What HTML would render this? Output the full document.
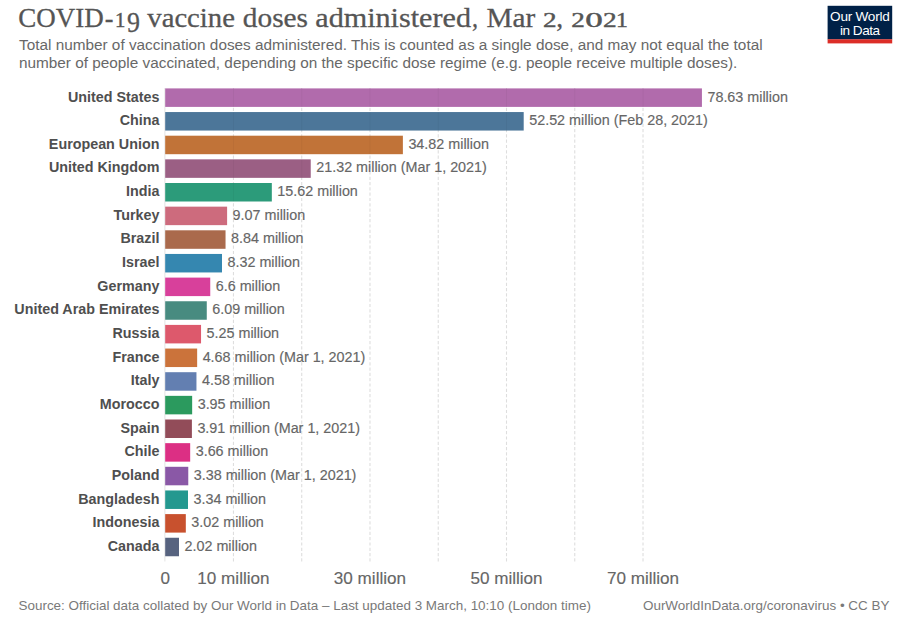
<!DOCTYPE html>
<html><head><meta charset="utf-8"><title>COVID-19 vaccine doses administered</title>
<style>
html,body{margin:0;padding:0;background:#fff;}
body{width:920px;height:625px;position:relative;overflow:hidden;font-family:"Liberation Sans",sans-serif;}
svg{position:absolute;left:0;top:0;}
text{font-family:"Liberation Sans",sans-serif;white-space:pre;}
.title text{font-family:"Liberation Serif",serif;fill:#555;stroke:#555;}
.sub{font-size:15.34px;fill:#686868;}
.lab{font-size:14.32px;font-weight:bold;fill:#4f4f4f;text-anchor:end;}
.val{font-size:14.35px;fill:#666;stroke:#666;stroke-width:0.15px;}
.tick{font-size:17.1px;fill:#666;stroke:#666;stroke-width:0.15px;text-anchor:middle;}
.foot{font-size:13.45px;fill:#797979;}
.logo{font-size:13.6px;fill:#fff;text-anchor:middle;letter-spacing:-0.25px;}
</style></head><body>
<svg width="920" height="625" viewBox="0 0 920 625">
<g class="title"><text transform="translate(18.32,27.30) scale(0.984,1)" font-size="27.4" stroke-width="0.30">COVID</text><text transform="translate(104.65,27.30) scale(0.950,1)" font-size="27.4" stroke-width="0.30">-</text><text transform="translate(114.92,27.30) scale(0.978,1)" font-size="21.2" stroke-width="0.45">1</text><text transform="translate(127.00,32.40) scale(0.914,1)" font-size="28.4" stroke-width="0.30">9 </text><text transform="translate(147.30,27.30) scale(1.048,1)" font-size="27.4" stroke-width="0.30">vaccine </text><text transform="translate(242.80,27.30) scale(1.071,1)" font-size="27.4" stroke-width="0.30">doses </text><text transform="translate(315.30,27.30) scale(1.100,1)" font-size="27.4" stroke-width="0.30">administered</text><text transform="translate(472.02,27.30) scale(0.880,1)" font-size="27.4" stroke-width="0.30">, </text><text transform="translate(486.40,27.30) scale(1.068,1)" font-size="27.4" stroke-width="0.30">Mar </text><text transform="translate(542.90,27.30) scale(1.280,1)" font-size="21.2" stroke-width="0.45">2</text><text transform="translate(556.30,27.30) scale(1.000,1)" font-size="27.4" stroke-width="0.30">, </text><text transform="translate(571.20,27.30) scale(1.280,1)" font-size="21.2" stroke-width="0.45">2</text><text transform="translate(585.20,27.30) scale(1.650,1)" font-size="21.2" stroke-width="0.45">0</text><text transform="translate(602.90,27.30) scale(1.290,1)" font-size="21.2" stroke-width="0.45">2</text><text transform="translate(615.88,27.30) scale(1.122,1)" font-size="21.2" stroke-width="0.45">1</text></g>
<text class="sub" x="19" y="49.6">Total number of vaccination doses administered. This is counted as a single dose, and may not equal the total</text>
<text class="sub" x="19" y="67.8">number of people vaccinated, depending on the specific dose regime (e.g. people receive multiple doses).</text>
<rect x="827.6" y="5.8" width="64.6" height="33.6" fill="#002147"/><rect x="827.6" y="39.3" width="64.6" height="4.1" fill="#dc2d27"/>
<text class="logo" x="859.8" y="20.5">Our World</text><text class="logo" x="859.8" y="34.7" style="letter-spacing:-0.5px">in Data</text>
<line x1="164.90" y1="88.0" x2="164.90" y2="561.5" stroke="#e3e3e3" stroke-width="1"/>
<line x1="233.46" y1="561.5" x2="233.46" y2="88.0" stroke="#dedede" stroke-width="1.1" stroke-dasharray="3.2,2.1"/>
<line x1="301.72" y1="561.5" x2="301.72" y2="88.0" stroke="#dedede" stroke-width="1.1" stroke-dasharray="3.2,2.1"/>
<line x1="369.98" y1="561.5" x2="369.98" y2="88.0" stroke="#dedede" stroke-width="1.1" stroke-dasharray="3.2,2.1"/>
<line x1="438.24" y1="561.5" x2="438.24" y2="88.0" stroke="#dedede" stroke-width="1.1" stroke-dasharray="3.2,2.1"/>
<line x1="506.50" y1="561.5" x2="506.50" y2="88.0" stroke="#dedede" stroke-width="1.1" stroke-dasharray="3.2,2.1"/>
<line x1="574.76" y1="561.5" x2="574.76" y2="88.0" stroke="#dedede" stroke-width="1.1" stroke-dasharray="3.2,2.1"/>
<line x1="643.02" y1="561.5" x2="643.02" y2="88.0" stroke="#dedede" stroke-width="1.1" stroke-dasharray="3.2,2.1"/>
<rect x="165.20" y="88.40" width="536.73" height="18.50" fill="#b16bac"/>
<rect x="165.20" y="112.05" width="358.50" height="18.50" fill="#4c7699"/>
<rect x="165.20" y="135.70" width="237.68" height="18.50" fill="#c17338"/>
<rect x="165.20" y="159.35" width="145.53" height="18.50" fill="#9b5f84"/>
<rect x="165.20" y="183.00" width="106.62" height="18.50" fill="#2c9b7a"/>
<rect x="165.20" y="206.65" width="61.91" height="18.50" fill="#cd6b7d"/>
<rect x="165.20" y="230.30" width="60.34" height="18.50" fill="#aa6a4c"/>
<rect x="165.20" y="253.95" width="56.79" height="18.50" fill="#3587b0"/>
<rect x="165.20" y="277.60" width="45.05" height="18.50" fill="#d8409b"/>
<rect x="165.20" y="301.25" width="41.57" height="18.50" fill="#488b80"/>
<rect x="165.20" y="324.90" width="35.84" height="18.50" fill="#dd596c"/>
<rect x="165.20" y="348.55" width="31.95" height="18.50" fill="#cb733b"/>
<rect x="165.20" y="372.20" width="31.26" height="18.50" fill="#637fb1"/>
<rect x="165.20" y="395.85" width="26.96" height="18.50" fill="#2b9a5e"/>
<rect x="165.20" y="419.50" width="26.69" height="18.50" fill="#924c59"/>
<rect x="165.20" y="443.15" width="24.98" height="18.50" fill="#dc2f84"/>
<rect x="165.20" y="466.80" width="23.07" height="18.50" fill="#8a58a6"/>
<rect x="165.20" y="490.45" width="22.80" height="18.50" fill="#24988f"/>
<rect x="165.20" y="514.10" width="20.61" height="18.50" fill="#c8512e"/>
<rect x="165.20" y="537.75" width="13.79" height="18.50" fill="#57637f"/>
<rect x="232.91" y="88.40" width="1.1" height="18.50" fill="#000" fill-opacity="0.035"/>
<rect x="232.91" y="112.05" width="1.1" height="18.50" fill="#000" fill-opacity="0.035"/>
<rect x="232.91" y="135.70" width="1.1" height="18.50" fill="#000" fill-opacity="0.035"/>
<rect x="232.91" y="159.35" width="1.1" height="18.50" fill="#000" fill-opacity="0.035"/>
<rect x="232.91" y="183.00" width="1.1" height="18.50" fill="#000" fill-opacity="0.035"/>
<rect x="301.17" y="88.40" width="1.1" height="18.50" fill="#000" fill-opacity="0.035"/>
<rect x="301.17" y="112.05" width="1.1" height="18.50" fill="#000" fill-opacity="0.035"/>
<rect x="301.17" y="135.70" width="1.1" height="18.50" fill="#000" fill-opacity="0.035"/>
<rect x="301.17" y="159.35" width="1.1" height="18.50" fill="#000" fill-opacity="0.035"/>
<rect x="369.43" y="88.40" width="1.1" height="18.50" fill="#000" fill-opacity="0.035"/>
<rect x="369.43" y="112.05" width="1.1" height="18.50" fill="#000" fill-opacity="0.035"/>
<rect x="369.43" y="135.70" width="1.1" height="18.50" fill="#000" fill-opacity="0.035"/>
<rect x="437.69" y="88.40" width="1.1" height="18.50" fill="#000" fill-opacity="0.035"/>
<rect x="437.69" y="112.05" width="1.1" height="18.50" fill="#000" fill-opacity="0.035"/>
<rect x="505.95" y="88.40" width="1.1" height="18.50" fill="#000" fill-opacity="0.035"/>
<rect x="505.95" y="112.05" width="1.1" height="18.50" fill="#000" fill-opacity="0.035"/>
<rect x="574.21" y="88.40" width="1.1" height="18.50" fill="#000" fill-opacity="0.035"/>
<rect x="642.47" y="88.40" width="1.1" height="18.50" fill="#000" fill-opacity="0.035"/>
<text class="lab" x="159.4" y="101.50">United States</text><text class="val" x="707.43" y="101.50">78.63 million</text>
<text class="lab" x="159.4" y="125.15">China</text><text class="val" x="529.20" y="125.15">52.52 million (Feb 28, 2021)</text>
<text class="lab" x="159.4" y="148.80">European Union</text><text class="val" x="408.38" y="148.80">34.82 million</text>
<text class="lab" x="159.4" y="172.45">United Kingdom</text><text class="val" x="316.23" y="172.45">21.32 million (Mar 1, 2021)</text>
<text class="lab" x="159.4" y="196.10">India</text><text class="val" x="277.32" y="196.10">15.62 million</text>
<text class="lab" x="159.4" y="219.75">Turkey</text><text class="val" x="232.61" y="219.75">9.07 million</text>
<text class="lab" x="159.4" y="243.40">Brazil</text><text class="val" x="231.04" y="243.40">8.84 million</text>
<text class="lab" x="159.4" y="267.05">Israel</text><text class="val" x="227.49" y="267.05">8.32 million</text>
<text class="lab" x="159.4" y="290.70">Germany</text><text class="val" x="215.75" y="290.70">6.6 million</text>
<text class="lab" x="159.4" y="314.35">United Arab Emirates</text><text class="val" x="212.27" y="314.35">6.09 million</text>
<text class="lab" x="159.4" y="338.00">Russia</text><text class="val" x="206.54" y="338.00">5.25 million</text>
<text class="lab" x="159.4" y="361.65">France</text><text class="val" x="202.65" y="361.65">4.68 million (Mar 1, 2021)</text>
<text class="lab" x="159.4" y="385.30">Italy</text><text class="val" x="201.96" y="385.30">4.58 million</text>
<text class="lab" x="159.4" y="408.95">Morocco</text><text class="val" x="197.66" y="408.95">3.95 million</text>
<text class="lab" x="159.4" y="432.60">Spain</text><text class="val" x="197.39" y="432.60">3.91 million (Mar 1, 2021)</text>
<text class="lab" x="159.4" y="456.25">Chile</text><text class="val" x="195.68" y="456.25">3.66 million</text>
<text class="lab" x="159.4" y="479.90">Poland</text><text class="val" x="193.77" y="479.90">3.38 million (Mar 1, 2021)</text>
<text class="lab" x="159.4" y="503.55">Bangladesh</text><text class="val" x="193.50" y="503.55">3.34 million</text>
<text class="lab" x="159.4" y="527.20">Indonesia</text><text class="val" x="191.31" y="527.20">3.02 million</text>
<text class="lab" x="159.4" y="550.85">Canada</text><text class="val" x="184.49" y="550.85">2.02 million</text>
<text class="tick" x="165.20" y="583.6">0</text>
<text class="tick" x="233.46" y="583.6">10 million</text>
<text class="tick" x="369.98" y="583.6">30 million</text>
<text class="tick" x="506.50" y="583.6">50 million</text>
<text class="tick" x="643.02" y="583.6">70 million</text>
<text class="foot" x="18.5" y="610.1">Source: Official data collated by Our World in Data – Last updated 3 March, 10:10 (London time)</text>
<text class="foot" x="889.4" y="610.1" text-anchor="end">OurWorldInData.org/coronavirus • CC BY</text>
</svg>
</body></html>
